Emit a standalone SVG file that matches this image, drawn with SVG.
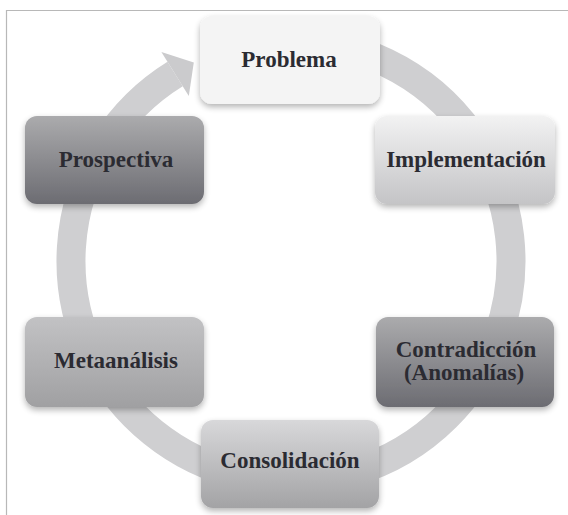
<svg xmlns="http://www.w3.org/2000/svg" width="568" height="515" viewBox="0 0 568 515">
<defs>
<linearGradient id="gDark" x1="0" y1="0" x2="0" y2="1"><stop offset="0" stop-color="#ababad"/><stop offset="1" stop-color="#6c6c72"/></linearGradient>
<linearGradient id="gLight" x1="0" y1="0" x2="0" y2="1"><stop offset="0" stop-color="#f2f2f2"/><stop offset="1" stop-color="#c4c4c6"/></linearGradient>
<linearGradient id="gMid" x1="0" y1="0" x2="0" y2="1"><stop offset="0" stop-color="#d8d8da"/><stop offset="1" stop-color="#a3a3a5"/></linearGradient>
<linearGradient id="gMeta" x1="0" y1="0" x2="0" y2="1"><stop offset="0" stop-color="#c2c2c4"/><stop offset="1" stop-color="#a0a0a2"/></linearGradient>
<filter id="sh" x="-10%" y="-10%" width="120%" height="130%"><feGaussianBlur in="SourceAlpha" stdDeviation="3"/><feOffset dx="0" dy="3" result="b"/><feComponentTransfer><feFuncA type="linear" slope="0.3"/></feComponentTransfer><feMerge><feMergeNode/><feMergeNode in="SourceGraphic"/></feMerge></filter>
</defs>
<style>
.lbl{font-family:"Liberation Serif","Times New Roman",serif;font-weight:bold;font-size:23px;fill:#2b2b32;text-anchor:middle}
.box{filter:url(#sh)}
</style>
<rect x="0" y="0" width="568" height="515" fill="#ffffff"/>
<path d="M6.5 515 V10.5 H568" fill="none" stroke="#b8b8b8" stroke-width="1.2"/>
<g id="connectors">
<path d="M175.1 74 A220 220 0 1 0 291 41" fill="none" stroke="#cfcfd1" stroke-width="29"/>
<polygon points="161.4,51.9 193.8,62.4 188.8,96.1" fill="#cbcbcd"/>
</g>
<g id="node-problema"><rect class="box" x="200" y="16" width="180" height="88" rx="12" fill="#f4f4f4"/><text class="lbl" x="289" y="67">Problema</text></g>
<g id="node-implementacion"><rect class="box" x="375" y="116" width="180" height="88" rx="12" fill="url(#gLight)"/><text class="lbl" x="466" y="167">Implementación</text></g>
<g id="node-contradiccion"><rect class="box" x="376" y="317" width="178" height="90" rx="12" fill="url(#gDark)"/><text class="lbl" x="466" y="357">Contradicción</text><text class="lbl" x="464" y="380">(Anomalías)</text></g>
<g id="node-consolidacion"><rect class="box" x="201" y="420" width="178" height="88" rx="12" fill="url(#gMid)"/><text class="lbl" x="290" y="468">Consolidación</text></g>
<g id="node-metaanalisis"><rect class="box" x="25" y="317" width="179" height="90" rx="12" fill="url(#gMeta)"/><text class="lbl" x="116" y="368">Metaanálisis</text></g>
<g id="node-prospectiva"><rect class="box" x="25" y="116" width="179" height="88" rx="12" fill="url(#gDark)"/><text class="lbl" x="116" y="167">Prospectiva</text></g>
</svg>
